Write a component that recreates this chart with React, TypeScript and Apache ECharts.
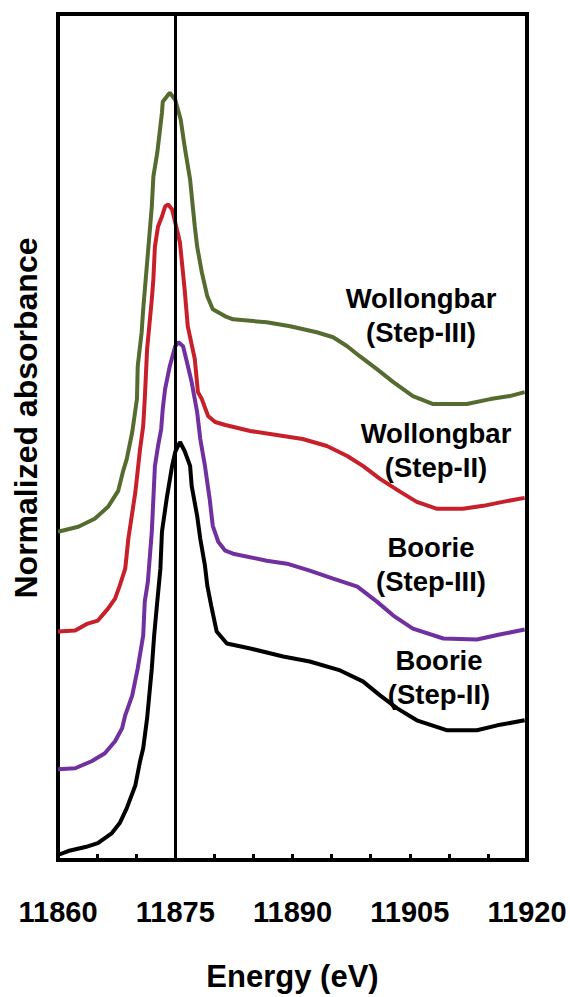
import React, { useEffect, useRef } from "react";
import * as echarts from "echarts";

// Energy (eV) and normalized absorbance (with vertical offsets)
const woll3Energy = [11860.0, 11862.6, 11864.7, 11866.4, 11867.7, 11868.3, 11868.8, 11869.5, 11870.1, 11870.2, 11870.7, 11870.9, 11872.0, 11872.2, 11872.7, 11873.3, 11873.4, 11874.3, 11875.0, 11875.7, 11876.2, 11876.9, 11877.5, 11877.8, 11878.4, 11879.1, 11879.8, 11881.4, 11882.4, 11886.7, 11889.7, 11893.1, 11895.2, 11897.0, 11898.6, 11900.8, 11902.9, 11905.4, 11908.0, 11912.3, 11915.3, 11917.8, 11919.7];
const woll3Abs = [3.29, 3.34, 3.42, 3.54, 3.70, 3.89, 4.02, 4.29, 4.62, 4.95, 5.29, 5.52, 6.55, 6.85, 7.09, 7.49, 7.60, 7.69, 7.62, 7.42, 7.15, 6.82, 6.35, 6.15, 5.89, 5.65, 5.52, 5.45, 5.42, 5.39, 5.35, 5.29, 5.24, 5.15, 5.05, 4.92, 4.79, 4.65, 4.57, 4.57, 4.62, 4.65, 4.69];

const woll2Energy = [11860.0, 11862.2, 11863.8, 11865.1, 11866.4, 11867.3, 11867.9, 11868.6, 11869.0, 11869.9, 11870.5, 11870.9, 11871.1, 11871.4, 11872.0, 11872.2, 11872.4, 11872.8, 11873.3, 11873.7, 11874.1, 11874.6, 11875.0, 11875.6, 11876.2, 11876.6, 11877.5, 11877.9, 11878.4, 11879.2, 11880.1, 11881.4, 11884.6, 11888.8, 11891.3, 11894.4, 11897.0, 11899.0, 11901.2, 11903.8, 11905.9, 11908.5, 11911.8, 11914.4, 11916.9, 11919.7];
const woll2Abs = [2.29, 2.30, 2.37, 2.40, 2.52, 2.62, 2.75, 2.92, 3.22, 3.69, 4.12, 4.35, 4.62, 5.12, 5.62, 5.82, 6.15, 6.35, 6.45, 6.55, 6.57, 6.52, 6.39, 6.19, 5.72, 5.35, 5.02, 4.69, 4.62, 4.45, 4.39, 4.36, 4.30, 4.25, 4.22, 4.15, 4.05, 3.95, 3.82, 3.69, 3.59, 3.52, 3.52, 3.55, 3.59, 3.63];

const boorie3Energy = [11860.0, 11862.2, 11864.3, 11866.0, 11867.3, 11868.2, 11868.6, 11869.5, 11870.2, 11870.9, 11871.1, 11871.5, 11872.0, 11872.2, 11872.4, 11872.8, 11873.2, 11873.4, 11873.7, 11874.3, 11875.0, 11875.4, 11876.0, 11876.5, 11877.1, 11877.8, 11878.2, 11878.8, 11879.4, 11879.8, 11880.5, 11881.4, 11882.4, 11886.7, 11889.3, 11892.2, 11895.2, 11898.3, 11900.8, 11902.9, 11905.4, 11909.3, 11913.6, 11916.5, 11919.7];
const boorie3Abs = [0.91, 0.92, 0.99, 1.07, 1.19, 1.32, 1.45, 1.65, 1.92, 2.25, 2.59, 2.79, 3.29, 3.62, 3.95, 4.15, 4.32, 4.52, 4.72, 4.95, 5.15, 5.19, 5.15, 4.99, 4.79, 4.49, 4.22, 3.95, 3.62, 3.35, 3.19, 3.10, 3.07, 3.00, 2.97, 2.90, 2.82, 2.74, 2.59, 2.45, 2.32, 2.22, 2.21, 2.26, 2.31];

const boorie2Energy = [11860.0, 11861.3, 11863.5, 11865.1, 11866.9, 11867.9, 11868.8, 11869.9, 11870.5, 11870.9, 11871.4, 11872.0, 11872.3, 11872.7, 11873.1, 11873.3, 11873.9, 11874.6, 11875.0, 11875.6, 11876.2, 11876.9, 11877.1, 11877.8, 11878.2, 11878.8, 11879.1, 11879.6, 11880.3, 11881.6, 11884.6, 11888.8, 11892.2, 11896.1, 11899.0, 11901.2, 11903.4, 11905.9, 11909.8, 11913.6, 11916.2, 11919.7];
const boorie2Abs = [0.05, 0.09, 0.13, 0.17, 0.27, 0.37, 0.52, 0.75, 0.99, 1.12, 1.42, 1.92, 2.25, 2.59, 2.92, 3.29, 3.62, 3.95, 4.09, 4.19, 4.10, 3.95, 3.75, 3.45, 3.22, 2.95, 2.75, 2.55, 2.29, 2.17, 2.12, 2.04, 1.99, 1.90, 1.79, 1.65, 1.52, 1.40, 1.30, 1.30, 1.35, 1.40];

const seriesNames = ["Wollongbar (Step-III)", "Wollongbar (Step-II)", "Boorie (Step-III)", "Boorie (Step-II)"];
const seriesLabels = ["Wollongbar\n(Step-III)", "Wollongbar\n(Step-II)", "Boorie\n(Step-III)", "Boorie\n(Step-II)"];
const seriesColors = ["#556b2f", "#c8202a", "#7030a0", "#000000"];
const referenceEnergy = 11875;
const xMin = 11860;
const xMax = 11920;
const xStep = 5;
const labelStep = 15;
const yTitle = "Normalized absorbance";
const xTitle = "Energy (eV)";

const FONT = "'Liberation Sans', Arial, Helvetica, sans-serif";

function zip(xs: number[], ys: number[]) {
  return xs.map((x, i) => [x, ys[i]]);
}

export default function App() {
  const ref = useRef<HTMLDivElement>(null);

  useEffect(() => {
    document.body.style.margin = "0";
    if (!ref.current) return;
    const chart = echarts.init(ref.current, undefined, { renderer: "svg" });
    const dataSets = [
      zip(woll3Energy, woll3Abs),
      zip(woll2Energy, woll2Abs),
      zip(boorie3Energy, boorie3Abs),
      zip(boorie2Energy, boorie2Abs),
    ];
    const labelPos = [
      [421, 315],
      [436, 450],
      [431, 564],
      [439, 677],
    ];
    const series: any[] = dataSets.map((d, i) => ({
      name: seriesNames[i],
      type: "line",
      data: d,
      showSymbol: false,
      symbol: "none",
      lineStyle: { color: seriesColors[i], width: 4 },
      itemStyle: { color: seriesColors[i] },
      z: 2,
    }));
    series[3].markLine = {
      silent: true,
      symbol: ["none", "none"],
      label: { show: false },
      lineStyle: { color: "#000", width: 3, type: "solid" },
      data: [{ xAxis: referenceEnergy }],
    };

    const graphics: any[] = seriesLabels.map((t, i) => ({
      type: "text",
      x: labelPos[i][0],
      y: labelPos[i][1],
      z: 10,
      style: {
        text: t,
        fontSize: 27.5,
        fontWeight: "bold",
        fontFamily: FONT,
        fill: "#000",
        align: "center",
        verticalAlign: "middle",
        lineHeight: 34,
      },
    }));
    graphics.push({
      type: "text",
      x: 26,
      y: 418,
      rotation: Math.PI / 2,
      z: 10,
      style: {
        text: yTitle,
        fontSize: 32,
        fontWeight: "bold",
        fontFamily: FONT,
        fill: "#000",
        align: "center",
        verticalAlign: "middle",
      },
    });

    chart.setOption({
      animation: false,
      grid: {
        left: 58,
        top: 14,
        right: 43,
        bottom: 135,
        show: true,
        borderColor: "#000",
        borderWidth: 4,
        backgroundColor: "transparent",
      },
      xAxis: {
        type: "value",
        min: xMin,
        max: xMax,
        interval: xStep,
        name: xTitle,
        nameLocation: "middle",
        nameGap: 101,
        nameTextStyle: { fontSize: 31, fontWeight: "bold", color: "#000", fontFamily: FONT },
        axisLine: { show: true, lineStyle: { color: "#000", width: 4 } },
        axisTick: { show: true, inside: true, length: 6, lineStyle: { color: "#000", width: 3 } },
        axisLabel: {
          fontSize: 29,
          fontWeight: "bold",
          color: "#000",
          fontFamily: FONT,
          margin: 37,
          formatter: (v: number) => (Math.round(v - xMin) % labelStep === 0 ? String(v) : ""),
        },
        splitLine: { show: false },
      },
      yAxis: {
        type: "value",
        min: 0,
        max: 8.48,
        axisLine: { show: false },
        axisTick: { show: false },
        axisLabel: { show: false },
        splitLine: { show: false },
      },
      graphic: graphics,
      series,
    });
    return () => chart.dispose();
  }, []);

  return <div ref={ref} style={{ width: 570, height: 997 }} />;
}
